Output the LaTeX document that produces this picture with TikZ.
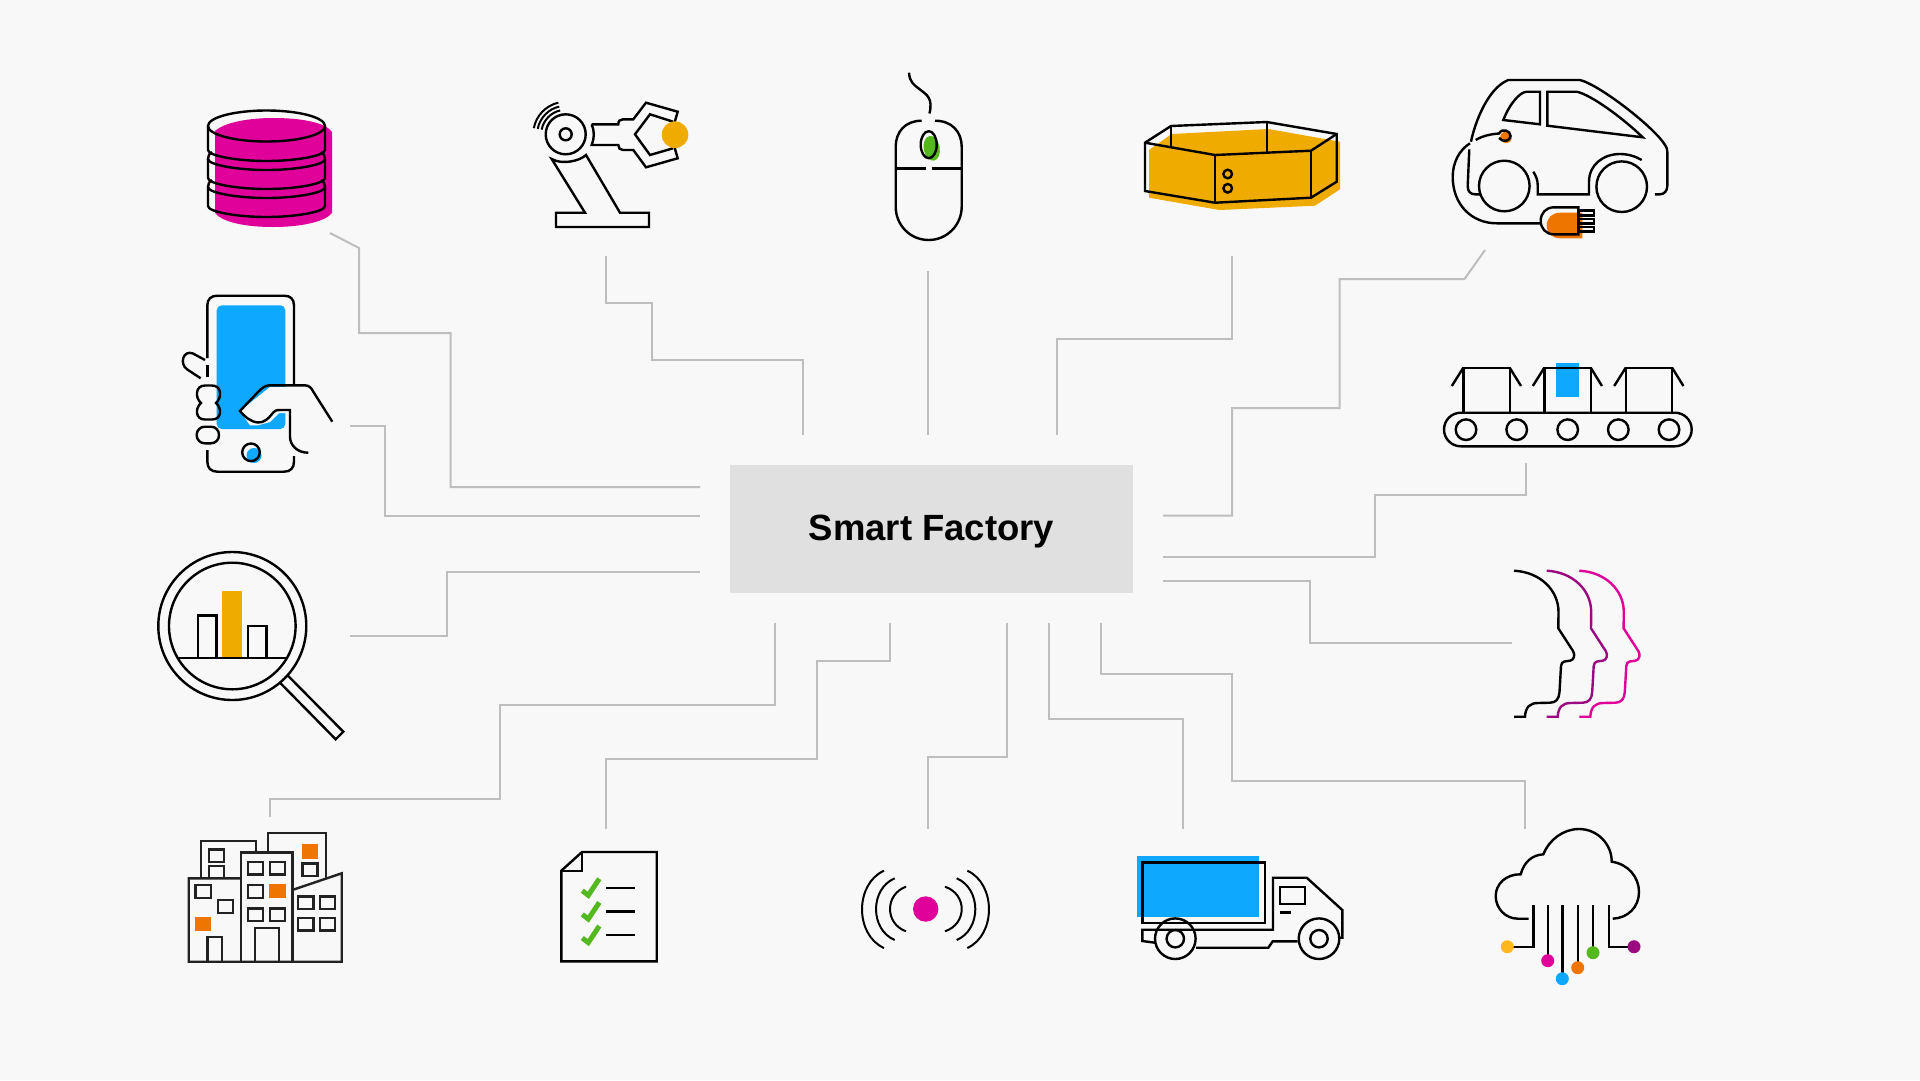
\documentclass[tikz,border=0pt]{standalone}
\usepackage{fontspec}
\setmainfont{Liberation Sans}
\definecolor{paper}{HTML}{F8F8F8}
\definecolor{hubgrey}{HTML}{E0E0E0}
\definecolor{wire}{HTML}{BEBEBE}
\definecolor{magentaX}{HTML}{E0009A}
\definecolor{purpleX}{HTML}{9B0A80}
\definecolor{amberX}{HTML}{F0AB00}
\definecolor{goldX}{HTML}{FFB81C}
\definecolor{blueX}{HTML}{0FA8FF}
\definecolor{greenX}{HTML}{54B81F}
\definecolor{orangeX}{HTML}{EE7600}
\definecolor{cityink}{HTML}{222222}
\tikzset{
  ink/.style={draw=black,line width=2.4pt,line join=miter,fill=none},
  thin ink/.style={ink,line width=2pt},
  link/.style={draw=wire,line width=2pt,line join=miter},
  cityline/.style={draw=cityink,line width=2.4pt},
  hubbox/.style={fill=hubgrey,draw=none,minimum width=403pt,minimum height=128pt,inner sep=0pt},
}
\begin{document}
\begin{tikzpicture}[x=1pt,y=-1pt]
\useasboundingbox (0,0) rectangle (1920,1080);
\fill[paper] (0,0) rectangle (1920,1080);

% central block
\node[hubbox] (hub) at (931.5,529) {\raisebox{-11.7pt}[0pt][0pt]{\fontsize{36.5}{40}\selectfont\bfseries Smart Factory}};

% connector ends at the icons
\coordinate (pDb) at (330,233);
\coordinate (pPhone) at (350,426);
\coordinate (pLens) at (350,635.5);
\coordinate (pRobot) at (606,256);
\coordinate (pMouse) at (928,271);
\coordinate (pBox) at (1232,256);
\coordinate (pCar) at (1485,250);
\coordinate (pBelt) at (1526,463);
\coordinate (pFaces) at (1512,643);
\coordinate (pCloud) at (1524.5,829);
\coordinate (pTruck) at (1183,829);
\coordinate (pSignal) at (928,829);
\coordinate (pList) at (606,829);
\coordinate (pCity) at (269.5,817);

% connector ends around the block
\coordinate (hDb) at (700,487);
\coordinate (hPhone) at (700,515.5);
\coordinate (hLens) at (700,572);
\coordinate (hRobot) at (803,435);
\coordinate (hMouse) at (928,435);
\coordinate (hBox) at (1057,435);
\coordinate (hCar) at (1163,515.5);
\coordinate (hBelt) at (1163,557);
\coordinate (hFaces) at (1163,580.5);
\coordinate (hCloud) at (1101,623);
\coordinate (hTruck) at (1049,623);
\coordinate (hSignal) at (1006.5,623);
\coordinate (hList) at (890,623);
\coordinate (hCity) at (775,623);

% connectors
\draw[link] (pDb) -- (359,248) -- (359,333) -- (450.5,333) -- (450.5,487) -- (hDb);
\draw[link] (pPhone) -- (384.5,426) -- (384.5,515.5) -- (hPhone);
\draw[link] (pLens) -- (447,635.5) -- (447,572) -- (hLens);
\draw[link] (pRobot) -- (606,302.5) -- (651.5,302.5) -- (651.5,360) -- (803,360) -- (hRobot);
\draw[link] (pMouse) -- (hMouse);
\draw[link] (pBox) -- (1232,339) -- (1057,339) -- (hBox);
\draw[link] (pCar) -- (1464.5,279) -- (1339.5,279) -- (1339.5,408) -- (1232,408) -- (1232,515.5) -- (hCar);
\draw[link] (pBelt) -- (1526,495) -- (1375,495) -- (1375,557) -- (hBelt);
\draw[link] (pFaces) -- (1310,643) -- (1310,580.5) -- (hFaces);
\draw[link] (pCloud) -- (1524.5,781) -- (1232,781) -- (1232,673.5) -- (1101,673.5) -- (hCloud);
\draw[link] (pTruck) -- (1183,719) -- (1049,719) -- (hTruck);
\draw[link] (pSignal) -- (928,757) -- (1006.5,757) -- (hSignal);
\draw[link] (pList) -- (606,759) -- (817,759) -- (817,661) -- (890,661) -- (hList);
\draw[link] (pCity) -- (269.5,798.5) -- (499.5,798.5) -- (499.5,705) -- (775,705) -- (hCity);

% database
\fill[magentaX] (215,131) .. controls (225,122) and (250,118) .. (273,118)
  .. controls (300,118) and (325,122) .. (332,132) -- (332,213)
  .. controls (325,222) and (300,227) .. (273,227)
  .. controls (245,227) and (222,222) .. (215,213) -- cycle;
\draw[ink] (266.5,126) ellipse [x radius=58.5,y radius=15.5];
\draw[ink] (208,126) -- (208,150) .. controls (208,156) and (238,161) .. (266.5,161)
  .. controls (295,161) and (325,156) .. (325,150) -- (325,126);
\draw[ink] (212,152) .. controls (209,154) and (208,156) .. (208,159)
  .. controls (208,165) and (238,170) .. (266.5,170)
  .. controls (295,170) and (325,165) .. (325,159) .. controls (325,156) and (324,154) .. (321,152);
\draw[ink] (208,159) -- (208,178) .. controls (208,184) and (238,189) .. (266.5,189)
  .. controls (295,189) and (325,184) .. (325,178) -- (325,159);
\draw[ink] (212,180) .. controls (209,182) and (208,184) .. (208,187)
  .. controls (208,193) and (238,198) .. (266.5,198)
  .. controls (295,198) and (325,193) .. (325,187) .. controls (325,184) and (324,182) .. (321,180);
\draw[ink] (208,187) -- (208,206) .. controls (208,212) and (238,217) .. (266.5,217)
  .. controls (295,217) and (325,212) .. (325,206) -- (325,187);

% robot arm
\draw[ink] (565.7,134.3) circle [radius=20];
\draw[ink] (565.7,134.3) circle [radius=6];
\foreach \r in {24.5,28.5,32.5}
  \draw[thin ink] (565.7,134.3) ++(191:\r) arc [start angle=191,end angle=257,radius=\r];
\draw[ink] (585,212.7) -- (556,212.7) -- (556,227) -- (649,227) -- (649,212.7) -- (620,212.7) -- (586,155)
  .. controls (580,161) and (562,165) .. (551.7,159) -- cycle;
\draw[ink] (591.7,124.3) -- (618.3,124.3) .. controls (618.3,121) and (620,119.3) .. (623,119.3)
  -- (633.3,119.3) -- (646,102.7) -- (677.7,111.7) -- (673,128) ;
\draw[ink] (673,121.7) -- (650,114.3) -- (635,134.3) -- (650,155) -- (673,148.3);
\draw[ink] (673,142) -- (677.7,158.3) -- (646,167.3) -- (633.3,150) -- (623,150)
  .. controls (620,150) and (618.3,148) .. (618.3,145) -- (591.7,145)
  .. controls (594.5,138) and (594.5,131) .. (591.7,124.3);
\fill[amberX] (675,134.7) circle [radius=13.3];

% mouse
\fill[greenX,shift={(931.7,148.3)},rotate=10] (0,0) ellipse [x radius=8,y radius=12.5];
\draw[ink] (928.7,144.7) ellipse [x radius=8,y radius=13.5];
\draw[ink] (921.7,120.7) .. controls (905,120.7) and (895.7,132) .. (895.7,146.7) -- (895.7,206.7)
  .. controls (895.7,225) and (910,240) .. (928.7,240)
  .. controls (947,240) and (961.7,225) .. (961.7,206.7) -- (961.7,146.7)
  .. controls (961.7,132) and (952,120.7) .. (935,120.7);
\draw[ink] (895.7,168.3) -- (926,168.3);
\draw[ink] (931.7,168.3) -- (961.7,168.3);
\draw[ink] (909,72.7) .. controls (909.5,82) and (914,85) .. (920,89.5)
  .. controls (927,95) and (933,98) .. (929.5,113.5);

% open box
\fill[amberX] (1149,150) -- (1171.7,134) -- (1268.3,129) -- (1340,141.7) -- (1340,189.3)
  -- (1315,205.7) -- (1219.3,210) -- (1149,197.7) -- cycle;
\draw[ink] (1145,142.7) -- (1171,126) -- (1266.7,122) -- (1336.7,134) -- (1336.7,181.7)
  -- (1311,197.7) -- (1215,202.7) -- (1145,191) -- cycle;
\draw[ink] (1145,142.7) -- (1215,155) -- (1311,150.7) -- (1336.7,134);
\draw[ink] (1215,155) -- (1215,202.7);
\draw[ink] (1311,150.7) -- (1311,197.7);
\draw[ink] (1171,126) -- (1171,147.3);
\draw[ink] (1266.7,122) -- (1266.7,151.7);
\draw[ink] (1227.7,174) circle [radius=4.3];
\draw[ink] (1227.7,188.3) circle [radius=4.3];

% electric car
\fill[orangeX] (1582.3,212.7) -- (1560,212.7) .. controls (1552,212.7) and (1546.7,218) .. (1546.7,225.5)
  .. controls (1546.7,233) and (1552,238.3) .. (1560,238.3) -- (1582.3,238.3) -- cycle;
\fill[orangeX] (1506,137.3) circle [radius=5.8];
\draw[ink] (1471,141.7) .. controls (1475,122) and (1488,88) .. (1508.3,80) -- (1580,80)
  .. controls (1600,85) and (1655,128) .. (1665,145) .. controls (1667,148) and (1667.3,150) .. (1667.3,152)
  -- (1667.3,186) .. controls (1667.3,191) and (1664,194.3) .. (1660,194.3) -- (1655,194.3);
\draw[ink] (1469.3,149.3) -- (1467.7,186) .. controls (1467.7,191) and (1470,194.3) .. (1475,194.3) -- (1480.7,194.3);
\draw[ink] (1533.3,171.7) .. controls (1536,176) and (1537.7,180) .. (1537.7,185) -- (1537.7,194.3)
  -- (1589,194.3) -- (1589,181.7) .. controls (1589,165) and (1603,154) .. (1620,154)
  .. controls (1628,154) and (1636,156.5) .. (1641.7,160);
\draw[ink] (1504.3,186) circle [radius=25.3];
\draw[ink] (1621.7,186.7) circle [radius=25.3];
\draw[ink] (1503.3,120) .. controls (1510,103) and (1520,92) .. (1526.7,91.7) -- (1540,91.7) -- (1540,124.3) -- cycle;
\draw[ink] (1547.3,91.7) -- (1576.7,91.7) .. controls (1592,95) and (1625,120) .. (1642.7,137.3) -- (1547.3,125.7) -- cycle;
\draw[ink] (1475.7,140) .. controls (1483,135.5) and (1492,134) .. (1499,133.5)
  .. controls (1502,127.5) and (1511,131) .. (1510.5,136) .. controls (1510.5,141) and (1503,143) .. (1499,138);
\draw[ink] (1470,143.3) .. controls (1459,150) and (1452.7,163) .. (1452.7,176.7)
  .. controls (1452.7,205) and (1472,223.3) .. (1496.7,223.3) -- (1540.7,223.3);
\draw[ink] (1578.3,207.3) -- (1554,207.3) .. controls (1546,207.3) and (1540.7,213) .. (1540.7,220.8)
  .. controls (1540.7,228.5) and (1546,234.3) .. (1554,234.3) -- (1578.3,234.3) -- cycle;
\draw[ink] (1578.3,210.5) rectangle (1594,215.5);
\draw[ink] (1578.3,218.7) rectangle (1594,223.5);
\draw[ink] (1578.3,226.7) rectangle (1594,231.5);

% phone in a hand
\fill[blueX,rounded corners=5pt] (216.7,305.3) rectangle (285.3,429);
\fill[paper] (240,411) -- (270,387) -- (287,387) -- (287,413) -- (279,413) -- (270,422) -- (258,425.3) -- (250,425.3) -- cycle;
\fill[blueX] (254,455.5) circle [radius=7.5];
\draw[ink] (207.3,358) -- (207.3,305.7) .. controls (207.3,299) and (211,295.7) .. (217.5,295.7)
  -- (284,295.7) .. controls (290.5,295.7) and (294,299) .. (294,305.7) -- (294,385.3);
\draw[ink] (290,385.3) -- (305,385.3) .. controls (309,385.3) and (311.5,388) .. (313.3,391.7) -- (332.3,421.7);
\draw[ink] (207.3,365) -- (207.3,377.3);
\draw[ink] (207.3,450) -- (207.3,461.5) .. controls (207.3,468) and (211,471.7) .. (217.5,471.7)
  -- (284,471.7) .. controls (290.5,471.7) and (294,468) .. (294,461.5) -- (294,456);
\draw[ink] (200.7,378.3) -- (187.3,369.5) .. controls (179,364) and (183,349.5) .. (193,353.5) -- (205,360);
\draw[ink] (205,385.5) -- (212,385.5) .. controls (222,385.5) and (222,398) .. (216,403)
  .. controls (222,408) and (222,419.5) .. (212,419.5) -- (205,419.5)
  .. controls (195,419.5) and (195,408) .. (201,403) .. controls (195,398) and (195,385.5) .. (205,385.5) -- cycle;
\draw[ink,rounded corners=8pt] (196.7,426.7) rectangle (219,443.3);
\draw[ink] (290,385.3) -- (270,385.3) .. controls (265,385.3) and (262,388) .. (258,392) -- (240,411)
  .. controls (244,416) and (250,421.7) .. (258,422.5) .. controls (264,423) and (269,418) .. (272,414)
  .. controls (275,410.5) and (276,410) .. (280,410) -- (290,410) -- (290,436.7)
  .. controls (290,445) and (297,452.7) .. (308.3,452.7);
\draw[ink] (251,452.3) circle [radius=8.8];

% magnifier with bar chart
\fill[amberX] (222,591) rectangle (242,657.7);
\draw[ink] (232.3,626) circle [radius=74];
\draw[ink] (232.3,626) circle [radius=63.3];
\draw[ink] (280,682.7) -- (335.7,739.3) -- (343.3,731.7) -- (287.3,675);
\draw[ink] (177.3,657.7) -- (287.3,657.7);
\draw[ink] (197.7,657.7) -- (197.7,615.3) -- (216.3,615.3) -- (216.3,657.7);
\draw[ink] (247.7,657.7) -- (247.7,626) -- (266.3,626) -- (266.3,657.7);

% conveyor belt
\fill[blueX] (1556,363) rectangle (1579.3,397);
\draw[ink,rounded corners=16.8pt] (1444,412.7) rectangle (1691.7,446.3);
\foreach \cx in {1466,1516.7,1567.7,1618.3,1669}
  \draw[ink] (\cx,429.7) circle [radius=10.3];
\foreach \bx in {1463.3,1544.3,1625.7} {
  \draw[ink] (\bx,412.7) -- (\bx,367.7) -- (\bx+46.4,367.7) -- (\bx+46.4,412.7);
  \draw[ink] (\bx,367.7) -- (\bx-11.5,386);
  \draw[ink] (\bx+46.4,367.7) -- (\bx+57.7,386);
}

% three head profiles
\foreach \dx/\col in {65.3/magentaX,32.7/purpleX,0/black}
  \draw[ink,draw=\col] (1514+\dx,570.7) .. controls (1540+\dx,572) and (1558.5+\dx,590) .. (1558.5+\dx,612)
    -- (1558.3+\dx,628.3) -- (1573+\dx,651) .. controls (1575.5+\dx,655) and (1574+\dx,660) .. (1570+\dx,660.7)
    .. controls (1566+\dx,661.5) and (1561.5+\dx,660.5) .. (1561+\dx,666) -- (1559.5+\dx,692)
    .. controls (1559+\dx,699) and (1556+\dx,702.7) .. (1550+\dx,702.7) -- (1538+\dx,703)
    .. controls (1530+\dx,703) and (1525.5+\dx,707) .. (1525+\dx,716.7) -- (1514+\dx,716.7);

% city block
\fill[orangeX] (301.7,844.3) rectangle (318,858.7);
\fill[orangeX] (194.7,916.7) rectangle (211.3,931);
\fill[orangeX] (269,884) rectangle (285.7,898.3);
\begin{scope}[cityline]
  \draw (201,878.3) -- (201,841) -- (255.7,841) -- (255.7,852.3);
  \draw (267.7,852.3) -- (267.7,832.7) -- (325.7,832.7) -- (325.7,878.3);
  \draw (240.7,878.3) -- (188.7,878.3) -- (188.7,961.7) -- (341.7,961.7) -- (341.7,873.3) -- (292.3,890);
  \draw (240.7,961.7) -- (240.7,852.3) -- (292.3,852.3) -- (292.3,961.7);
  \draw (208.7,849.3) rectangle (223.7,861.7);
  \draw (208.7,878.3) -- (208.7,866) -- (223.7,866) -- (223.7,878.3);
  \draw (302.3,863.3) rectangle (317.3,876);
  \draw (195.3,885) rectangle (210.7,897.7);
  \draw (218,900) rectangle (233,913);
  \draw (207.3,961.7) -- (207.3,936.7) -- (222,936.7) -- (222,961.7);
  \draw (247.7,861.7) rectangle (263,874.3);
  \draw (269.7,861.7) rectangle (285,874.3);
  \draw (247.7,884.7) rectangle (263,897.7);
  \draw (247.7,908.3) rectangle (263,921);
  \draw (269.7,908.3) rectangle (285,921);
  \draw (254.7,961.7) -- (254.7,928) -- (278.7,928) -- (278.7,961.7);
  \foreach \wx in {298,319.7}
    \foreach \wy in {896.3,917.7}
      \draw (\wx,\wy) rectangle (\wx+15.3,\wy+12.6);
\end{scope}

% checklist
\draw[ink] (561.3,870.7) -- (582,852) -- (656.7,852) -- (656.7,961.3) -- (561.3,961.3) -- cycle;
\draw[ink] (582,852) -- (582,870.7) -- (561.3,870.7);
\foreach \dy in {0,23.7,47.3} {
  \draw[draw=greenX,line width=5pt] (582.3,890.7+\dy) -- (588.3,895.3+\dy) -- (599.3,878.7+\dy);
  \draw[ink] (606,887.7+\dy) -- (635,887.7+\dy);
}

% radio signal
\fill[magentaX] (925.7,909) circle [radius=12.7];
\begin{scope}[thin ink]
  \draw (906,886.7) .. controls (884.7,894.3) and (884.7,923.7) .. (906,931.3);
  \draw (894.7,878.3) .. controls (869.8,888.8) and (869.8,929.5) .. (894.7,940);
  \draw (884,870.7) .. controls (854.7,883.8) and (854.7,934.9) .. (884,948);
  \draw (945,886.7) .. controls (967.3,894.3) and (967.3,923.7) .. (945,931.3);
  \draw (956.7,878.3) .. controls (981.5,888.8) and (981.5,929.5) .. (956.7,940);
  \draw (967.3,870.7) .. controls (996.2,883.8) and (996.2,934.9) .. (967.3,948);
\end{scope}

% delivery truck
\fill[blueX] (1137.3,856) rectangle (1259,916.7);
\draw[ink] (1142.3,862.3) rectangle (1265,923);
\draw[ink] (1155,942.7) -- (1142.3,941) -- (1142.3,929.7) -- (1273,929.7) -- (1273,877.7) -- (1306.7,877.7)
  -- (1342.3,910) -- (1342.3,937.7) -- (1340,937.7);
\draw[ink] (1196,947.7) -- (1268.3,947.7) -- (1272.7,941.3) -- (1297.7,941.3);
\draw[ink] (1175.3,938.7) circle [radius=20.3];
\draw[ink] (1175.3,938.7) circle [radius=8.7];
\draw[ink] (1319,938.7) circle [radius=20.3];
\draw[ink] (1319,938.7) circle [radius=8.7];
\draw[ink] (1280,886.7) rectangle (1305,903.7);
\draw[ink] (1280.3,912.3) -- (1290.7,912.3);

% cloud with data lines
\draw[ink] (1528.7,918.7) -- (1518,918.7) .. controls (1505,918.7) and (1495.7,908) .. (1495.7,896)
  .. controls (1495.7,884) and (1506,874) .. (1520.7,874.3)
  .. controls (1524,862) and (1532,855) .. (1543.3,854.3)
  .. controls (1549,840) and (1563,829) .. (1579,829)
  .. controls (1598,829) and (1612,845) .. (1611.7,861.7)
  .. controls (1628,864) and (1639,877) .. (1639,892)
  .. controls (1639,907) and (1628,918) .. (1612.7,918.7);
\draw[ink] (1533.3,905) -- (1533.3,946.7) -- (1507.3,946.7);
\draw[ink] (1608.7,905) -- (1608.7,946.7) -- (1634,946.7);
\draw[ink] (1547.7,905) -- (1547.7,960.7);
\draw[ink] (1562.3,905) -- (1562.3,978.7);
\draw[ink] (1577.7,905) -- (1577.7,967.7);
\draw[ink] (1593,905) -- (1593,952.7);
\fill[goldX] (1507.3,946.7) circle [radius=6.5];
\fill[magentaX] (1547.7,960.7) circle [radius=6.5];
\fill[blueX] (1562.3,978.7) circle [radius=6.5];
\fill[orangeX] (1577.7,967.7) circle [radius=6.5];
\fill[greenX] (1593,952.7) circle [radius=6.5];
\fill[purpleX] (1634,946.7) circle [radius=6.5];
\end{tikzpicture}
\end{document}
